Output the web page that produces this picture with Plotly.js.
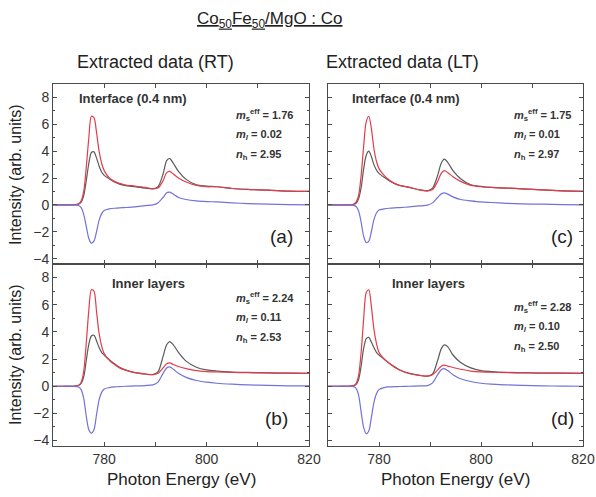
<!DOCTYPE html>
<html>
<head>
<meta charset="utf-8">
<script src="https://cdn.plot.ly/plotly-3.0.1.min.js"></script>
<style>html,body{margin:0;padding:0;background:#fff;}#chart{width:596px;height:497px;}</style>
</head>
<body>
<div id="chart"></div>
<script>
// Photon energy grid (eV)
const energy = [770, 772, 774, 775, 775.5, 776, 776.5, 777, 777.5, 778, 778.5, 779, 779.5, 780, 781, 782, 783, 784, 786, 788, 789.5, 790.5, 791.5, 792.2, 792.8, 793.5, 794.5, 796, 798, 800, 802, 805, 808, 812, 816, 820];

// (a) Interface, RT
const aBlack = [0, 0, 0, 0.05, 0.2, 0.7, 1.8, 3.1, 3.9, 3.95, 3.5, 2.9, 2.45, 2.2, 1.95, 1.7, 1.55, 1.45, 1.35, 1.25, 1.2, 1.35, 2.3, 3.3, 3.45, 3.1, 2.5, 1.9, 1.5, 1.4, 1.35, 1.22, 1.15, 1.1, 1.03, 1.0];
const aRed   = [0, 0, 0, 0.08, 0.3, 1.0, 2.8, 5.0, 6.6, 6.5, 5.4, 4.0, 3.1, 2.55, 2.0, 1.75, 1.6, 1.5, 1.4, 1.3, 1.2, 1.25, 1.8, 2.4, 2.5, 2.3, 2.0, 1.7, 1.45, 1.35, 1.35, 1.22, 1.15, 1.1, 1.03, 1.0];
const aBlue  = [0, 0, 0, -0.05, -0.2, -0.7, -1.6, -2.5, -2.85, -2.7, -2.0, -1.15, -0.65, -0.42, -0.3, -0.25, -0.22, -0.2, -0.15, -0.05, 0.0, 0.15, 0.55, 0.9, 0.95, 0.8, 0.55, 0.4, 0.3, 0.25, 0.22, 0.15, 0.1, 0.05, 0.02, 0];

// (b) Inner layers, RT
const bBlack = [0, 0, 0, 0.05, 0.2, 0.7, 1.9, 3.1, 3.7, 3.75, 3.35, 2.85, 2.5, 2.3, 1.95, 1.65, 1.4, 1.22, 1.0, 0.9, 0.85, 1.05, 2.2, 3.05, 3.28, 3.05, 2.5, 1.85, 1.4, 1.2, 1.12, 1.05, 1.02, 0.98, 0.96, 0.95];
const bRed   = [0, 0, 0, 0.08, 0.3, 1.1, 3.2, 5.6, 7.1, 7.0, 5.5, 3.9, 2.95, 2.4, 1.9, 1.6, 1.35, 1.2, 1.0, 0.9, 0.85, 0.95, 1.35, 1.65, 1.72, 1.6, 1.45, 1.3, 1.15, 1.08, 1.05, 1.02, 1.0, 0.98, 0.96, 0.95];
const bBlue  = [0, 0, 0, -0.06, -0.25, -0.9, -2.2, -3.2, -3.45, -3.2, -2.1, -1.0, -0.45, -0.2, -0.1, -0.05, -0.03, 0, 0.02, 0.05, 0.1, 0.3, 0.95, 1.35, 1.42, 1.25, 0.95, 0.65, 0.42, 0.3, 0.22, 0.15, 0.1, 0.06, 0.03, 0.02];

// (c) Interface, LT
const cBlack = [0, 0, 0, 0.03, 0.12, 0.45, 1.3, 2.7, 3.7, 4.0, 3.6, 3.0, 2.6, 2.35, 2.05, 1.8, 1.6, 1.45, 1.3, 1.12, 1.05, 1.25, 2.2, 3.1, 3.4, 3.15, 2.55, 1.95, 1.5, 1.38, 1.3, 1.25, 1.2, 1.12, 1.05, 1.0];
const cRed   = [0, 0, 0, 0.05, 0.2, 0.7, 2.2, 4.4, 6.2, 6.6, 5.7, 4.2, 3.25, 2.7, 2.2, 1.85, 1.6, 1.45, 1.3, 1.12, 1.05, 1.15, 1.75, 2.35, 2.55, 2.4, 2.1, 1.75, 1.45, 1.35, 1.3, 1.25, 1.2, 1.12, 1.05, 1.0];
const cBlue  = [0, 0, 0, -0.03, -0.12, -0.45, -1.3, -2.35, -2.8, -2.7, -2.0, -1.1, -0.6, -0.38, -0.3, -0.25, -0.22, -0.2, -0.15, -0.08, -0.02, 0.15, 0.55, 0.82, 0.9, 0.8, 0.6, 0.4, 0.3, 0.22, 0.18, 0.12, 0.08, 0.05, 0.02, 0];

// (d) Inner layers, LT
const dBlack = [0, 0, 0, 0.03, 0.12, 0.5, 1.5, 2.8, 3.5, 3.6, 3.25, 2.85, 2.5, 2.3, 2.0, 1.7, 1.45, 1.22, 0.95, 0.8, 0.75, 0.9, 1.9, 2.75, 3.05, 2.9, 2.3, 1.75, 1.35, 1.15, 1.08, 1.02, 1.0, 0.97, 0.96, 0.95];
const dRed   = [0, 0, 0, 0.05, 0.2, 0.8, 2.5, 5.0, 6.9, 7.1, 5.9, 4.2, 3.15, 2.5, 2.0, 1.7, 1.4, 1.2, 0.92, 0.8, 0.75, 0.85, 1.2, 1.48, 1.55, 1.48, 1.38, 1.25, 1.12, 1.06, 1.03, 1.0, 0.98, 0.97, 0.96, 0.95];
const dBlue  = [0, 0, 0, -0.03, -0.15, -0.65, -1.9, -3.05, -3.5, -3.3, -2.3, -1.2, -0.55, -0.25, -0.1, -0.05, -0.03, -0.02, 0, 0.02, 0.05, 0.25, 0.85, 1.22, 1.3, 1.15, 0.85, 0.55, 0.35, 0.22, 0.15, 0.1, 0.06, 0.03, 0.01, 0];

// Text
const mainTitle = "<u>Co<sub>50</sub>Fe<sub>50</sub>/MgO : Co</u>";
const colTitles = ["Extracted data (RT)", "Extracted data (LT)"];
const rowLabels = ["Interface (0.4 nm)", "Inner layers"];
const panelLetters = ["(a)", "(b)", "(c)", "(d)"];
const msEff = ["1.76", "2.24", "1.75", "2.28"];
const mlVals = ["0.02", "0.11", "0.01", "0.10"];
const nhVals = ["2.95", "2.53", "2.97", "2.50"];
const xTickVals = [780, 800, 820];

const W = 596, H = 497;
const px = x => x / W;
const py = y => 1 - y / H;

const colBlack = '#5a5a5a', colRed = '#e23c4a', colBlue = '#7272da';

function tr(y, color, xa, ya) {
  return {x: energy, y: y, type: 'scatter', mode: 'lines',
    line: {color: color, width: 1.2, shape: 'spline', smoothing: 0.8},
    xaxis: xa, yaxis: ya, hoverinfo: 'skip', showlegend: false};
}

// panels: a = top-left (x3,y3), b = bottom-left (x,y), c = top-right (x4,y4), d = bottom-right (x2,y2)
const data = [
  tr(aBlack, colBlack, 'x3', 'y3'), tr(aRed, colRed, 'x3', 'y3'), tr(aBlue, colBlue, 'x3', 'y3'),
  tr(bBlack, colBlack, 'x', 'y'), tr(bRed, colRed, 'x', 'y'), tr(bBlue, colBlue, 'x', 'y'),
  tr(cBlack, colBlack, 'x4', 'y4'), tr(cRed, colRed, 'x4', 'y4'), tr(cBlue, colBlue, 'x4', 'y4'),
  tr(dBlack, colBlack, 'x2', 'y2'), tr(dRed, colRed, 'x2', 'y2'), tr(dBlue, colBlue, 'x2', 'y2')
];

const axLine = '#4a4a4a';
const tickFont = {family: 'Liberation Sans, Arial, sans-serif', size: 14, color: '#333'};
function xax(domain, anchor, labels) {
  return {domain: domain, anchor: anchor, range: [770, 820], tickvals: xTickVals,
    showticklabels: labels, ticks: 'inside', ticklen: 4, tickcolor: axLine,
    minor: {tickvals: [770, 790, 810], ticks: 'inside', ticklen: 4, tickcolor: axLine},
    showline: true, linecolor: axLine, linewidth: 1, mirror: 'ticks', showgrid: false, zeroline: false,
    tickfont: tickFont, fixedrange: true};
}
function yax(domain, anchor, labels) {
  return {domain: domain, anchor: anchor, range: [-4.4, 9.0], dtick: 2, tick0: 0,
    showticklabels: labels, ticks: 'inside', ticklen: 4, tickcolor: axLine,
    minor: {dtick: 1, ticks: 'inside', ticklen: 2, tickcolor: axLine},
    showline: true, linecolor: axLine, linewidth: 1, mirror: 'ticks', showgrid: false, zeroline: false,
    tickfont: tickFont, fixedrange: true};
}
const xL = [px(53), px(309)], xR = [px(328), px(583)];
const yTop = [py(264), py(84)], yBot = [py(446), py(264)];

const layout = {
  width: W, height: H, margin: {l: 0, r: 0, t: 0, b: 0},
  paper_bgcolor: '#fff', plot_bgcolor: '#fff',
  font: {family: 'Liberation Sans, Arial, sans-serif', color: '#222'},
  xaxis: xax(xL, 'y', true), yaxis: yax(yBot, 'x', true),
  xaxis2: xax(xR, 'y2', true), yaxis2: yax(yBot, 'x2', false),
  xaxis3: xax(xL, 'y3', false), yaxis3: yax(yTop, 'x3', true),
  xaxis4: xax(xR, 'y4', false), yaxis4: yax(yTop, 'x4', false),
  annotations: []
};

const A = layout.annotations;
function ann(text, x, y, size, opts) {
  const o = opts || {};
  A.push(Object.assign({text: text, x: px(x), y: py(y), xref: 'paper', yref: 'paper',
    showarrow: false, xanchor: 'center', yanchor: 'middle',
    font: {family: 'Liberation Sans, Arial, sans-serif', size: size, color: o.color || '#222', weight: o.weight || 'normal'}},
    o.xanchor ? {xanchor: o.xanchor} : {}, o.textangle !== undefined ? {textangle: o.textangle} : {}));
}
ann(mainTitle, 270, 20, 17);
ann(colTitles[0], 155, 62, 18);
ann(colTitles[1], 402, 62, 18);
ann(rowLabels[0], 133, 99, 13, {weight: 'bold', color: '#333'});
ann(rowLabels[0], 406, 99, 13, {weight: 'bold', color: '#333'});
ann(rowLabels[1], 148, 283, 13, {weight: 'bold', color: '#333'});
ann(rowLabels[1], 428, 283, 13, {weight: 'bold', color: '#333'});
ann(panelLetters[0], 281, 236, 19);
ann(panelLetters[1], 276, 418, 19);
ann(panelLetters[2], 562, 236, 19);
ann(panelLetters[3], 562, 418, 19);

function params(i, x, y0) {
  const o = {xanchor: 'left', weight: 'bold', color: '#333'};
  ann('<i>m</i><sub>s</sub><sup>eff</sup> = ' + msEff[i], x, y0, 11, o);
  ann('<i>m</i><sub><i>l</i></sub> = ' + mlVals[i], x, y0 + 20, 11, o);
  ann('<i>n</i><sub>h</sub> = ' + nhVals[i], x, y0 + 40, 11, o);
}
params(0, 234, 115);
params(1, 234, 298);
params(2, 512, 115);
params(3, 512, 307);

ann('Intensity (arb. units)', 15, 175, 16, {textangle: -90});
ann('Intensity (arb. units)', 15, 355, 16, {textangle: -90});
ann('Photon Energy (eV)', 181, 479, 17);
ann('Photon Energy (eV)', 455, 479, 17);

Plotly.newPlot('chart', data, layout, {staticPlot: true, displayModeBar: false});
</script>
</body>
</html>
